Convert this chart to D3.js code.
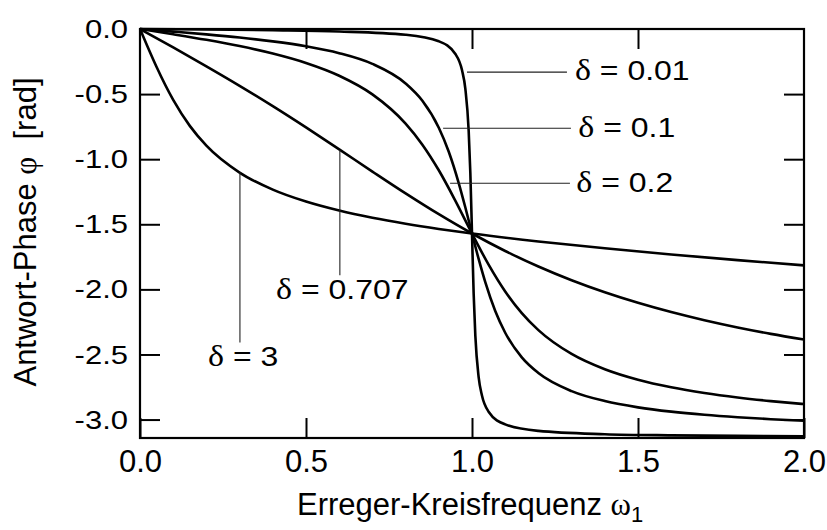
<!DOCTYPE html>
<html>
<head>
<meta charset="utf-8">
<script src="https://cdn.jsdelivr.net/npm/d3@7"></script>
<style>
  body { margin: 0; background: #fff; }
  text { font-family: "Liberation Sans", Arial, Helvetica, sans-serif; fill: #000; white-space: pre; }
  .sym { font-family: "Liberation Serif", "Times New Roman", serif; }
</style>
</head>
<body>
<svg id="chart" width="827" height="530"></svg>
<script>
// phase response, one pair of arrays per damping value
var omega001 = [0, 0.2, 0.4, 0.6, 0.8, 0.9, 0.95, 0.97, 0.98, 0.99, 0.995, 1.0, 1.005, 1.01, 1.02, 1.03, 1.05, 1.1, 1.2, 1.4, 1.6, 1.8, 2.0];
var phi001   = [0, -0.0042, -0.0095, -0.0188, -0.0444, -0.0945, -0.1925, -0.3172, -0.4596, -0.7829, -1.1061, -1.5708, -2.0335, -2.3537, -2.6740, -2.8154, -2.9395, -3.0372, -3.0871, -3.1124, -3.1211, -3.1255, -3.1283];

var omega01 = [0, 0.1, 0.2, 0.3, 0.4, 0.5, 0.6, 0.7, 0.8, 0.85, 0.9, 0.93, 0.96, 0.98, 1.0, 1.02, 1.04, 1.07, 1.1, 1.15, 1.2, 1.3, 1.4, 1.5, 1.6, 1.7, 1.8, 1.9, 2.0];
var phi01   = [0, -0.0202, -0.0416, -0.0658, -0.0950, -0.1326, -0.1854, -0.2679, -0.4182, -0.5496, -0.7584, -0.9426, -1.1831, -1.3714, -1.5708, -1.7663, -1.9447, -2.1660, -2.3330, -2.5221, -2.6422, -2.7812, -2.8578, -2.9061, -2.9393, -2.9636, -2.9822, -2.9970, -3.0090];

var omega02 = [0, 0.1, 0.2, 0.3, 0.4, 0.5, 0.6, 0.7, 0.8, 0.85, 0.9, 0.95, 1.0, 1.05, 1.1, 1.15, 1.2, 1.3, 1.4, 1.5, 1.6, 1.7, 1.8, 1.9, 2.0];
var phi02   = [0, -0.0404, -0.0831, -0.1311, -0.1882, -0.2606, -0.3588, -0.5021, -0.7266, -0.8863, -1.0852, -1.3196, -1.5708, -1.8102, -2.0161, -2.1823, -2.3128, -2.4958, -2.6135, -2.6941, -2.7523, -2.7962, -2.8306, -2.8582, -2.8810];

var omega0707 = [0, 0.1, 0.2, 0.3, 0.4, 0.5, 0.6, 0.7, 0.8, 0.9, 1.0, 1.1, 1.2, 1.3, 1.4, 1.5, 1.6, 1.7, 1.8, 1.9, 2.0];
var phi0707   = [0, -0.1419, -0.2865, -0.4362, -0.5926, -0.7559, -0.9245, -1.0950, -1.2627, -1.4226, -1.5708, -1.7050, -1.8245, -1.9299, -2.0223, -2.1033, -2.1745, -2.2371, -2.2925, -2.3417, -2.3857];

var omega3 = [0, 0.02, 0.05, 0.1, 0.15, 0.2, 0.3, 0.4, 0.5, 0.6, 0.7, 0.8, 0.9, 1.0, 1.2, 1.4, 1.6, 1.8, 2.0];
var phi3   = [0, -0.1195, -0.2923, -0.5449, -0.7441, -0.8961, -1.1027, -1.2341, -1.3258, -1.3949, -1.4500, -1.4959, -1.5356, -1.5708, -1.6318, -1.6846, -1.7319, -1.7753, -1.8158];

var xTicks = [0, 0.5, 1.0, 1.5, 2.0];
var yTicks = [0, -0.5, -1.0, -1.5, -2.0, -2.5, -3.0];
var xInnerTicks = [0.5, 1.0, 1.5];

// label leaders: horizontal ones (from, to, level) and vertical ones (at, from, to)
var hLabels = [
  { text: "0.01", x0: 0.985, x1: 1.286, y: -0.331, tx: 1.31, ty: -0.392 },
  { text: "0.1",  x0: 0.913, x1: 1.298, y: -0.762, tx: 1.32, ty: -0.831 },
  { text: "0.2",  x0: 0.934, x1: 1.295, y: -1.185, tx: 1.314, ty: -1.254 }
];
var vLabels = [
  { text: "0.707", x: 0.602, y0: -0.93, y1: -1.892, tx: 0.41, ty: -2.077 },
  { text: "3",     x: 0.301, y0: -1.10, y1: -2.408, tx: 0.205, ty: -2.592 }
];

var svg = d3.select("#chart");
var padL = 140, padT = 29, padR = 804, padB = 438;

var x = d3.scaleLinear().domain([0, 2]).range([padL, padR]);
var y = d3.scaleLinear().domain([-Math.PI, 0]).range([padB, padT]);

function zip(a, b) { return a.map(function(d, i) { return [d, b[i]]; }); }
var series = [zip(omega001, phi001), zip(omega01, phi01), zip(omega02, phi02), zip(omega0707, phi0707), zip(omega3, phi3)];

var line = d3.line()
  .x(function(d) { return x(d[0]); })
  .y(function(d) { return y(d[1]); })
  .curve(d3.curveMonotoneX);

svg.append("g").selectAll("path")
  .data(series)
  .enter().append("path")
  .attr("d", line)
  .attr("fill", "none")
  .attr("stroke", "#000")
  .attr("stroke-width", 2.6)
  .attr("stroke-linejoin", "round");

// axes, ticks pointing inward
var fmt = function(d) { return d.toFixed(1); };

var gx = svg.append("g").attr("transform", "translate(0," + padB + ")")
  .call(d3.axisBottom(x).tickValues(xTicks).tickFormat(fmt).tickSize(-20).tickPadding(12));
var gy = svg.append("g").attr("transform", "translate(" + padL + ",0)")
  .call(d3.axisLeft(y).tickValues(yTicks).tickFormat(fmt).tickSize(-20).tickPadding(12));
var gt = svg.append("g").attr("transform", "translate(0," + padT + ")")
  .call(d3.axisTop(x).tickValues(xInnerTicks).tickFormat("").tickSize(-20));
var gr = svg.append("g").attr("transform", "translate(" + padR + ",0)")
  .call(d3.axisRight(y).tickValues(yTicks.slice(1)).tickFormat("").tickSize(-20));

[gx, gy, gt, gr].forEach(function(g) {
  g.select(".domain").remove();
  g.selectAll("line").attr("stroke", "#000").attr("stroke-width", 2);
  g.selectAll("text").attr("font-size", 31)
    .attr("font-family", "'Liberation Sans', Arial, sans-serif").attr("fill", "#000");
});
gy.selectAll("text").attr("transform", "scale(1,0.86)");

svg.append("rect")
  .attr("x", padL).attr("y", padT)
  .attr("width", padR - padL).attr("height", padB - padT)
  .attr("fill", "none").attr("stroke", "#000").attr("stroke-width", 2.2);

// labels
function deltaLabel(px, py, txt) {
  var t = svg.append("text")
    .attr("transform", "translate(" + px + "," + py + ") scale(1,0.86)")
    .attr("font-size", 32);
  t.append("tspan").attr("class", "sym").attr("font-size", 34).text("\u03B4");
  t.append("tspan").text(" = " + txt);
}

hLabels.forEach(function(d) {
  svg.append("line")
    .attr("x1", x(d.x0)).attr("x2", x(d.x1))
    .attr("y1", y(d.y)).attr("y2", y(d.y))
    .attr("stroke", "#222").attr("stroke-width", 1.1);
  deltaLabel(x(d.tx), y(d.ty), d.text);
});
vLabels.forEach(function(d) {
  svg.append("line")
    .attr("x1", x(d.x)).attr("x2", x(d.x))
    .attr("y1", y(d.y0)).attr("y2", y(d.y1))
    .attr("stroke", "#222").attr("stroke-width", 1.1);
  deltaLabel(x(d.tx), y(d.ty), d.text);
});

// axis titles
var xt = svg.append("text").attr("x", 297).attr("y", 515).attr("font-size", 31);
xt.append("tspan").text("Erreger-Kreisfrequenz ");
xt.append("tspan").attr("class", "sym").text("\u03C9");
xt.append("tspan").attr("font-size", 22).attr("dy", 7).text("1");

var yt = svg.append("text")
  .attr("transform", "translate(36,232) rotate(-90)")
  .attr("text-anchor", "middle")
  .attr("font-size", 31);
yt.append("tspan").text("Antwort-Phase ");
yt.append("tspan").attr("class", "sym").text("\u03C6");
yt.append("tspan").text("  [rad]");
</script>
</body>
</html>
